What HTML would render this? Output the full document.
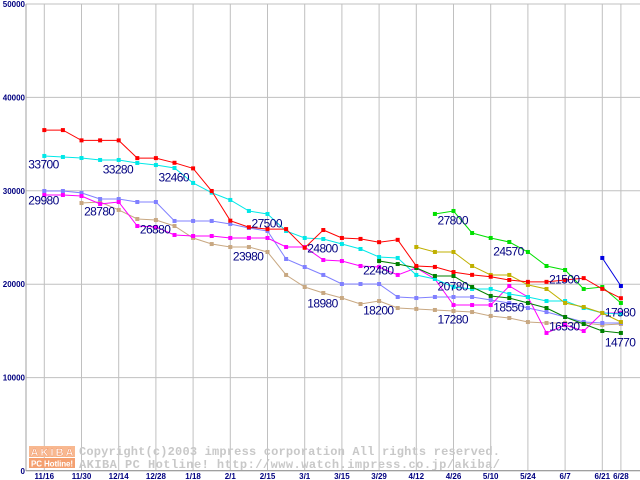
<!DOCTYPE html>
<html><head><meta charset="utf-8"><style>
body{margin:0;background:#fff;}
svg{display:block;font-family:"Liberation Sans",sans-serif;}
</style></head><body>
<svg id="chart" width="640" height="480" viewBox="0 0 640 480" xmlns="http://www.w3.org/2000/svg">
<rect x="0" y="0" width="640" height="480" fill="#fff"/>
<g id="grid"></g>
<g id="watermark">
  <rect x="29" y="446" width="46" height="11" fill="#f8b890"/>
  <text x="52" y="456" font-size="11" font-weight="bold" fill="#fff" stroke="#f09060" stroke-width="0.4" text-anchor="middle" textLength="43">AKIBA</text>
  <rect x="29" y="458" width="46" height="10" fill="#f4a070"/>
  <text x="52" y="466.5" font-size="8" font-weight="bold" fill="#fff" text-anchor="middle" textLength="42">PC Hotline!</text>
  <text x="79" y="455" font-family="Liberation Mono, monospace" font-size="12" font-weight="bold" fill="#c8c8c8" textLength="421">Copyright(c)2003 impress corporation All rights reserved.</text>
  <text x="79" y="468" font-family="Liberation Mono, monospace" font-size="12" font-weight="bold" fill="#c8c8c8" textLength="421">AKIBA PC Hotline!  http://www.watch.impress.co.jp/akiba/</text>
</g>
<g id="series"></g>
<g id="labels"></g>
<g id="axes"></g>
</svg>
<script>
const xTickLabels = ["11/16","11/30","12/14","12/28","1/18","2/1","2/15","3/1","3/15","3/29","4/12","4/26","5/10","5/24","6/7","6/21","6/28"];
const xTickIdx = [0,2,4,6,8,10,12,14,16,18,20,22,24,26,28,30,31];
const yTicks = [0,10000,20000,30000,40000,50000];
const redVals = [36500,36500,35400,35400,35400,33500,33500,33000,32400,29980,26800,26100,25900,25900,23900,25800,24950,24850,24500,24750,21950,21850,21300,21000,20800,20450,20250,20250,20450,20650,19500,18500];
const cyanVals = [33730,33620,33510,33300,33300,32980,32760,32440,30840,29800,29020,27840,27520,25700,24950,24840,24300,23770,22910,22810,20990,20560,19700,19490,19490,18950,18630,18200,18200,17450,16920,16810];
const periVals = [29980,29980,29770,29120,29120,28800,28800,26770,26770,26770,26450,26020,25700,22700,21840,20990,20020,20020,20020,18630,18520,18630,18630,18630,18310,17990,17450,17020,16490,15950,15850,15850];
const magentaVals = [29550,29550,29440,28590,28800,26230,26120,25270,25160,25160,24950,24950,24950,23980,23980,22590,22480,21950,21840,20990,21740,20560,17770,17770,17770,19810,18630,14780,15630,14990,16920,16920];
const tanVals = [28690,28800,27950,26980,26870,26230,24950,24300,23980,23980,23450,20990,19700,19060,18520,17880,18200,17450,17350,17240,17130,17020,16600,16380,15950,15850,15850,15850,15630,15740];
const tanStart = 2;
const dgreenVals = [22480,22160,21740,20880,20880,19700,18740,18520,17990,17450,16490,15740,14990,14780];
const dgreenStart = 18;
const oliveVals = [23980,23450,23450,21950,20990,20990,19920,19490,17990,17560,16920,15950];
const oliveStart = 20;
const greenVals = [27520,27840,25480,24950,24520,23450,21950,21520,19490,19700,17990];
const greenStart = 21;
const blueVals = [22810,19810];
const blueStart = 30;
const priceLabels = ["33700","33280","32460","29980","28780","26880","27500","23980","24800","22480","18980","18200","20780","17280","27800","18550","24570","21500","16530","17980","14770"];
const labelIdx = [0,4,7,0,3,6,12,11,15,18,15,18,22,22,22,25,25,28,28,31,31];
const labelVal = [32870,32330,31480,29010,27840,25910,26550,23020,23880,21520,17990,17240,19810,16270,26870,17560,23550,20560,15520,17020,13810];

const NS = "http://www.w3.org/2000/svg";
function xs(i){ return 44.3 + 18.6*i; }
function ys(v){ return 471 - v*0.00934; }
function mk(tag, attrs, parent){ const e=document.createElementNS(NS,tag); for(const k in attrs) e.setAttribute(k,attrs[k]); parent.appendChild(e); return e; }

const grid=document.getElementById('grid'), axes=document.getElementById('axes'), ser=document.getElementById('series'), lab=document.getElementById('labels');
for(const v of yTicks){
  const l=mk('line',{x1:26,x2:640,y1:ys(v),y2:ys(v),stroke:'#c0c0c0','stroke-width':1},grid);
  
  
  const t=mk('text',{x:25,y:ys(v)+3,'font-size':8,'font-weight':'bold',fill:'#000080','text-anchor':'end'},axes);
  t.textContent=v;
  
  
}
xTickIdx.forEach((ix,k)=>{
  const l=mk('line',{x1:xs(ix),x2:xs(ix),y1:4,y2:470,stroke:'#c0c0c0','stroke-width':1},grid);
  
  
  const t=mk('text',{x:xs(ix),y:479,'font-size':8,'font-weight':'bold',fill:'#000080','text-anchor':'middle'},axes);
  t.textContent=xTickLabels[k];
  
  
});
const ax=mk('line',{x1:26,x2:26,y1:4,y2:471,stroke:'#a0a0a0','stroke-width':1},axes);


const bx=mk('line',{x1:26,x2:640,y1:470.5,y2:470.5,stroke:'#a0a0a0','stroke-width':1},axes);



function drawSeries(vals,start,color,name){
  const g=mk('g',{},ser);
  
  
  const pts=vals.map((v,k)=>xs(start+k).toFixed(1)+','+ys(v).toFixed(1)).join(' ');
  const pl=mk('polyline',{points:pts,fill:'none',stroke:color,'stroke-width':1},g);
  
  
  vals.forEach((v,k)=>{
    const r=mk('rect',{x:xs(start+k)-2,y:ys(v)-2,width:4,height:4,fill:color},g);
    
    
  });
}
drawSeries(tanVals,tanStart,'#c8a882','series-tan');
drawSeries(periVals,0,'#8080ff','series-periwinkle');
drawSeries(magentaVals,0,'#ff00ff','series-magenta');
drawSeries(cyanVals,0,'#00e8e8','series-cyan');
drawSeries(dgreenVals,dgreenStart,'#008000','series-dark-green');
drawSeries(oliveVals,oliveStart,'#c0b000','series-olive');
drawSeries(greenVals,greenStart,'#00e000','series-green');
drawSeries(redVals,0,'#ff0000','series-red');
drawSeries(blueVals,blueStart,'#0000e0','series-blue');

priceLabels.forEach((s,k)=>{
  const t=mk('text',{x:xs(labelIdx[k])-16,y:ys(labelVal[k])+4.5,'font-size':12,fill:'#000080',textLength:31},lab);
  t.textContent=s;
  
  
});
</script>
</body></html>
